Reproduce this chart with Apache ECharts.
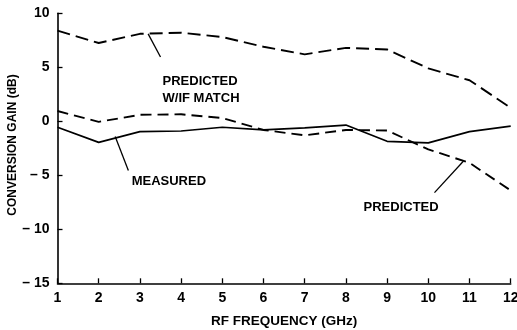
<!DOCTYPE html>
<html>
<head>
<meta charset="utf-8">
<script src="https://cdn.jsdelivr.net/npm/echarts@6/dist/echarts.min.js"></script>
<style>
  html, body { margin: 0; padding: 0; background: #fff; }
  #chart { width: 517px; height: 330px; }
</style>
</head>
<body>
<div id="chart"></div>
<script>
// RF frequency (GHz) and conversion gain (dB) for the three curves
const freqGHz = [1, 2, 3, 4, 5, 6, 7, 8, 9, 10, 11, 12];
const predictedIfMatch = [8.4, 7.25, 8.1, 8.2, 7.8, 6.9, 6.2, 6.8, 6.65, 4.9, 3.8, 1.25];
const predicted = [0.95, -0.05, 0.6, 0.65, 0.3, -0.8, -1.3, -0.8, -0.85, -2.6, -3.85, -6.4];
const measured = [-0.55, -1.95, -0.95, -0.9, -0.55, -0.8, -0.6, -0.35, -1.85, -2.0, -0.95, -0.45];
const yTicks = [-15, -10, -5, 0, 5, 10];

const FONT = '"Liberation Sans", Arial, sans-serif';

const chart = echarts.init(document.getElementById('chart'), null, { renderer: 'canvas' });

function pairs(ys) { return freqGHz.map((x, i) => [x, ys[i]]); }

const lineBase = { type: 'line', symbol: 'none', silent: true, animation: false };

chart.setOption({
  backgroundColor: '#fff',
  animation: false,
  grid: { left: 57.5, right: 6.3, top: 13.3, bottom: 46.7, containLabel: false, outerBoundsMode: 'none' },
  xAxis: {
    type: 'value', min: 1, max: 12, interval: 1,
    name: 'RF FREQUENCY (GHz)', nameLocation: 'middle', nameGap: 31,
    nameTextStyle: { color: '#000', fontFamily: FONT, fontWeight: 'bold', fontSize: 13.5 },
    axisLine: { onZero: false, lineStyle: { color: '#000', width: 1.6 } },
    axisTick: { inside: true, length: 5, lineStyle: { color: '#000', width: 1.3 } },
    axisLabel: { color: '#000', fontFamily: FONT, fontWeight: 'bold', fontSize: 14, margin: 8 },
    splitLine: { show: false }
  },
  yAxis: {
    type: 'value', min: yTicks[0], max: yTicks[yTicks.length - 1], interval: 5,
    axisLine: { show: true, onZero: false, lineStyle: { color: '#000', width: 1.6 } },
    axisTick: { show: true, inside: true, length: 5, lineStyle: { color: '#000', width: 1.3 } },
    axisLabel: {
      color: '#000', fontFamily: FONT, fontWeight: 'bold', fontSize: 14, margin: 8,
      formatter: v => (v < 0 ? '\u2013 ' + Math.abs(v) : String(v))
    },
    splitLine: { show: false }
  },
  series: [
    Object.assign({}, lineBase, {
      name: 'PREDICTED W/IF MATCH', data: pairs(predictedIfMatch),
      lineStyle: { color: '#000', width: 1.9, type: [13, 6] }
    }),
    Object.assign({}, lineBase, {
      name: 'PREDICTED', data: pairs(predicted),
      lineStyle: { color: '#000', width: 1.9, type: [11, 6] }
    }),
    Object.assign({}, lineBase, {
      name: 'MEASURED', data: pairs(measured),
      lineStyle: { color: '#000', width: 1.7 }
    })
  ]
});

// Callout labels with leader lines, anchored in data coordinates
const callouts = [
  { text: 'PREDICTED\nW/IF MATCH', from: [3.2, 8.1], to: [3.5, 5.95], label: [3.55, 4.45], align: 'left', va: 'top' },
  { text: 'MEASURED', from: [2.4, -1.4], to: [2.72, -4.55], label: [2.8, -5.6], align: 'left', va: 'middle' },
  { text: 'PREDICTED', from: [10.85, -3.7], to: [10.15, -6.6], label: [9.34, -8.0], align: 'center', va: 'middle' }
];

const px = p => chart.convertToPixel({ gridIndex: 0 }, p);
const graphics = [];
callouts.forEach(c => {
  const a = px(c.from), b = px(c.to), l = px(c.label);
  graphics.push({
    type: 'line', silent: true,
    shape: { x1: a[0], y1: a[1], x2: b[0], y2: b[1] },
    style: { stroke: '#000', lineWidth: 1.3 }
  });
  graphics.push({
    type: 'text', silent: true, x: l[0], y: l[1],
    style: {
      text: c.text, fill: '#000', font: 'bold 13px ' + FONT,
      lineHeight: 17, textAlign: c.align, textVerticalAlign: c.va
    }
  });
});

// Vertical axis title
graphics.push({
  type: 'text', silent: true, x: 13, y: 145, rotation: Math.PI / 2,
  style: { text: 'CONVERSION GAIN (dB)', fill: '#000', font: 'bold 12px ' + FONT,
           textAlign: 'center', textVerticalAlign: 'middle' }
});

chart.setOption({ graphic: graphics });
</script>
</body>
</html>
